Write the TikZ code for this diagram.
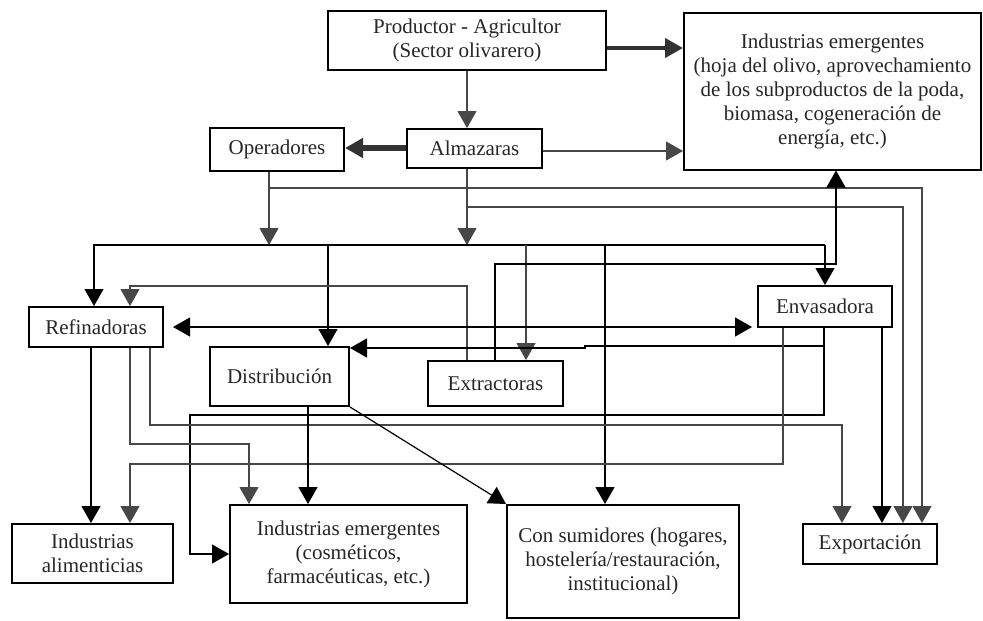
\documentclass[tikz,border=0pt]{standalone}
\usepackage{fontspec}
\setmainfont{Liberation Serif}
\usetikzlibrary{arrows.meta}

\begin{document}
\begin{tikzpicture}[x=1pt, y=-1pt,
  box/.style={draw, line width=2pt, inner sep=0pt, align=center, text=black!85,
    font=\fontsize{21}{24}\selectfont},
  blk/.style={line width=1.2pt, black},
  gry/.style={line width=1.1pt, black!72},
  tip/.style={-{Triangle[length=17pt 0,width=19pt 0]}},
  twotip/.style={{Triangle[length=17pt 0,width=19pt 0]}-{Triangle[length=17pt 0,width=19pt 0]}},
  thk/.style={black!80, -{Triangle[length=18pt 0,width=19pt 0]}}]
\useasboundingbox (0,0) rectangle (983,621);

\node[box, minimum width=278pt, minimum height=59pt] (prod) at (467,40.5) {Productor - Agricultor\\(Sector olivarero)};
\node[box, minimum width=297pt, minimum height=157pt] (indH) at (832.5,91) {Industrias emergentes\\(hoja del olivo, aprovechamiento\\de los subproductos de la poda,\\biomasa, cogeneración de\\energía, etc.)};
\node[box, minimum width=134pt, minimum height=43pt] (oper) at (277,149.5) {Operadores};
\node[box, minimum width=135pt, minimum height=39pt] (alm) at (474.5,148.5) {Almazaras};
\node[box, minimum width=134pt, minimum height=40pt] (ref) at (96,327) {Refinadoras};
\node[box, minimum width=139pt, minimum height=59pt] (dist) at (279.5,376.5) {Distribución};
\node[box, minimum width=135pt, minimum height=45pt] (extr) at (495.5,383.5) {Extractoras};
\node[box, minimum width=134pt, minimum height=41pt] (env) at (825,306.5) {Envasadora};
\node[box, minimum width=161pt, minimum height=59pt] (alim) at (92.5,553.5) {Industrias\\alimenticias};
\node[box, minimum width=237pt, minimum height=98pt] (cosm) at (348.5,554) {Industrias emergentes\\(cosméticos,\\farmacéuticas, etc.)};
\node[box, minimum width=232pt, minimum height=113pt] (cons) at (623,561.5) {Con sumidores (hogares,\\hostelería/restauración,\\institucional)};
\node[box, minimum width=134pt, minimum height=40pt] (expo) at (870,544) {Exportación};

% productor y almazaras
\draw[gry,tip] (prod.south) -- (prod.south |- alm.north);
\draw[thk, line width=4pt] (prod.east |- 0,48) -- (indH.west |- 0,48);
\draw[gry,tip] (alm.east |- 0,151) -- (indH.west |- 0,151);
\draw[thk, line width=5.5pt] (alm.west |- 0,148) -- (oper.east |- 0,148);

\draw[gry,tip] (oper.south -| 269,0) -- (269,245);
\draw[gry,tip] (269,188) -| (expo.north -| 922,0);
\draw[gry,tip] (alm.south -| 467,0) -- (467,245);
\draw[gry,tip] (467,207) -| (expo.north -| 903,0);

% reparto
\draw[blk,tip] (825,245) -- (94,245) -- (ref.north -| 94,0);
\draw[blk,tip] (825,245) -- (env.north -| 825,0);
\draw[blk,tip] (328,245) -- (dist.north -| 328,0);
\draw[gry,tip] (526,245) -- (extr.north -| 526,0);
\draw[blk,tip] (605,245) -- (cons.north -| 605,0);

\draw[blk,tip] (extr.north -| 495,0) |- (836,264) -- (indH.south -| 836,0);
\draw[gry,tip] (extr.north -| 467,0) |- (130,286) -- (ref.north -| 130,0);

\draw[blk,twotip, shorten <=9pt, shorten >=5pt] (ref.east |- 0,327) -- (env.west |- 0,327);

% envasadora
\draw[blk,tip] (env.south -| 824,0) -- (824,415) -| (190,554) -- (cosm.west |- 0,554);
\draw[blk,tip] (824,346) -- (585,346) -- (585,348) -- (dist.east |- 0,348);
\draw[gry,tip] (env.south -| 783,0) |- (130,464) -- (alim.north -| 130,0);
\draw[blk,tip] (env.south -| 882,0) -- (expo.north -| 882,0);

% refinadoras y distribucion
\draw[blk,tip] (ref.south -| 91,0) -- (alim.north -| 91,0);
\draw[gry,tip] (ref.south -| 130,0) |- (249,444) -- (cosm.north -| 249,0);
\draw[gry,tip] (ref.south -| 150,0) |- (842,425) -- (expo.north -| 842,0);
\draw[blk,tip] (dist.south -| 308,0) -- (cosm.north -| 308,0);
\draw[blk,tip] (dist.south east) -- (cons.north west);
\end{tikzpicture}
\end{document}
